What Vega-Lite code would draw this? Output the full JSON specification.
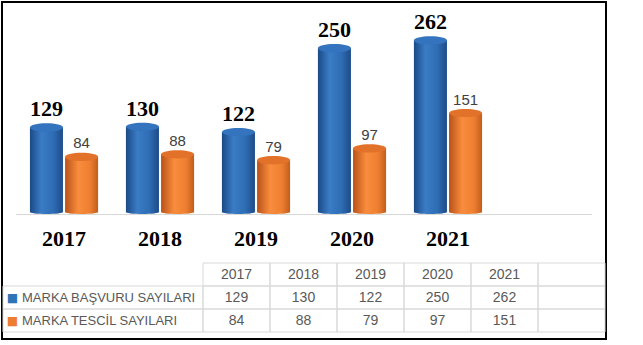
{
  "$schema": "https://vega.github.io/schema/vega-lite/v6.json",
  "width": 604,
  "height": 337,
  "autosize": {"type": "none"},
  "padding": {"left": 2, "top": 2, "right": 37, "bottom": 6},
  "background": "white",
  "config": {"view": {"stroke": "black", "strokeWidth": 2}},
  "datasets": {
    "bars": [
      {"year": "2017", "series": "MARKA BAŞVURU SAYILARI", "value": 129},
      {"year": "2018", "series": "MARKA BAŞVURU SAYILARI", "value": 130},
      {"year": "2019", "series": "MARKA BAŞVURU SAYILARI", "value": 122},
      {"year": "2020", "series": "MARKA BAŞVURU SAYILARI", "value": 250},
      {"year": "2021", "series": "MARKA BAŞVURU SAYILARI", "value": 262},
      {"year": "2017", "series": "MARKA TESCİL SAYILARI", "value": 84},
      {"year": "2018", "series": "MARKA TESCİL SAYILARI", "value": 88},
      {"year": "2019", "series": "MARKA TESCİL SAYILARI", "value": 79},
      {"year": "2020", "series": "MARKA TESCİL SAYILARI", "value": 97},
      {"year": "2021", "series": "MARKA TESCİL SAYILARI", "value": 151}
    ]
  },
  "data": {"name": "bars"},
  "resolve": {"scale": {"x": "independent", "y": "independent"}},
  "layer": [
    {
      "transform": [
        {"filter": {"field": "year", "equal": "2017"}},
        {"filter": {"field": "series", "equal": "MARKA BAŞVURU SAYILARI"}}
      ],
      "mark": {"type": "rect", "fill": "#d9d9d9"},
      "encoding": {
        "x": {"datum": "base", "type": "nominal", "scale": {"domain": ["base"], "paddingInner": 0, "paddingOuter": 0.0243, "align": 0.5}, "axis": null},
        "y": {"datum": -3, "type": "quantitative", "scale": {"domain": [-193.9, 320.6], "nice": false, "zero": false}, "axis": null},
        "y2": {"datum": -4.6}
      }
    },
    {
      "layer": [
        {
          "transform": [{"filter": {"field": "series", "equal": "MARKA BAŞVURU SAYILARI"}}],
          "mark": {"type": "point", "shape": "M -1 0 A 1 0.12 0 1 1 1 0 A 1 0.12 0 1 1 -1 0 Z", "size": 1096, "filled": true, "opacity": 1, "strokeWidth": 0,
            "fill": {"gradient": "linear", "x1": 0, "y1": 0, "x2": 1, "y2": 0, "stops": [{"offset": 0, "color": "#1b4a86"}, {"offset": 0.35, "color": "#3a7cc6"}, {"offset": 0.7, "color": "#2f6db5"}, {"offset": 1, "color": "#1d4c88"}]}},
          "encoding": {
            "x": {"field": "year", "type": "nominal", "scale": {"domain": ["2017", "2018", "2019", "2020", "2021", "blank"], "paddingInner": 0.29, "paddingOuter": 0.291, "align": 0.5}, "axis": null},
            "xOffset": {"field": "series", "type": "nominal", "scale": {"domain": ["MARKA BAŞVURU SAYILARI", "MARKA TESCİL SAYILARI"], "paddingInner": 0.06}},
            "y": {"datum": 0, "type": "quantitative", "scale": {"domain": [-193.9, 320.6], "nice": false, "zero": false}, "axis": null}
          }
        },
        {
          "transform": [{"filter": {"field": "series", "equal": "MARKA TESCİL SAYILARI"}}],
          "mark": {"type": "point", "shape": "M -1 0 A 1 0.12 0 1 1 1 0 A 1 0.12 0 1 1 -1 0 Z", "size": 1096, "filled": true, "opacity": 1, "strokeWidth": 0,
            "fill": {"gradient": "linear", "x1": 0, "y1": 0, "x2": 1, "y2": 0, "stops": [{"offset": 0, "color": "#b9521a"}, {"offset": 0.4, "color": "#f98d3d"}, {"offset": 0.75, "color": "#ee7f30"}, {"offset": 1, "color": "#c35d1d"}]}},
          "encoding": {
            "x": {"field": "year", "type": "nominal", "axis": null},
            "xOffset": {"field": "series", "type": "nominal"},
            "y": {"datum": 0, "type": "quantitative", "axis": null}
          }
        },
        {
          "transform": [{"filter": {"field": "series", "equal": "MARKA BAŞVURU SAYILARI"}}],
          "mark": {"type": "bar", "opacity": 1,
            "fill": {"gradient": "linear", "x1": 0, "y1": 0, "x2": 1, "y2": 0, "stops": [{"offset": 0, "color": "#1b4a86"}, {"offset": 0.35, "color": "#3a7cc6"}, {"offset": 0.7, "color": "#2f6db5"}, {"offset": 1, "color": "#1d4c88"}]}},
          "encoding": {
            "x": {"field": "year", "type": "nominal", "axis": null},
            "xOffset": {"field": "series", "type": "nominal"},
            "y": {"field": "value", "type": "quantitative", "axis": null},
            "y2": {"datum": 0}
          }
        },
        {
          "transform": [{"filter": {"field": "series", "equal": "MARKA TESCİL SAYILARI"}}],
          "mark": {"type": "bar", "opacity": 1,
            "fill": {"gradient": "linear", "x1": 0, "y1": 0, "x2": 1, "y2": 0, "stops": [{"offset": 0, "color": "#b9521a"}, {"offset": 0.4, "color": "#f98d3d"}, {"offset": 0.75, "color": "#ee7f30"}, {"offset": 1, "color": "#c35d1d"}]}},
          "encoding": {
            "x": {"field": "year", "type": "nominal", "axis": null},
            "xOffset": {"field": "series", "type": "nominal"},
            "y": {"field": "value", "type": "quantitative", "axis": null},
            "y2": {"datum": 0}
          }
        },
        {
          "transform": [{"filter": {"field": "series", "equal": "MARKA BAŞVURU SAYILARI"}}],
          "mark": {"type": "point", "shape": "M -1 0 A 1 0.25 0 1 1 1 0 A 1 0.25 0 1 1 -1 0 Z", "size": 1096, "filled": true, "opacity": 1, "strokeWidth": 0, "fill": "#3473bd"},
          "encoding": {
            "x": {"field": "year", "type": "nominal", "axis": null},
            "xOffset": {"field": "series", "type": "nominal"},
            "y": {"field": "value", "type": "quantitative", "axis": null}
          }
        },
        {
          "transform": [{"filter": {"field": "series", "equal": "MARKA TESCİL SAYILARI"}}],
          "mark": {"type": "point", "shape": "M -1 0 A 1 0.25 0 1 1 1 0 A 1 0.25 0 1 1 -1 0 Z", "size": 1096, "filled": true, "opacity": 1, "strokeWidth": 0, "fill": "#e2722a"},
          "encoding": {
            "x": {"field": "year", "type": "nominal", "axis": null},
            "xOffset": {"field": "series", "type": "nominal"},
            "y": {"field": "value", "type": "quantitative", "axis": null}
          }
        },
        {
          "transform": [{"filter": {"field": "series", "equal": "MARKA BAŞVURU SAYILARI"}}],
          "mark": {"type": "text", "font": "Liberation Serif", "fontWeight": "bold", "fontSize": 22, "color": "black", "align": "center", "baseline": "alphabetic", "dy": -11},
          "encoding": {
            "x": {"field": "year", "type": "nominal", "axis": null},
            "xOffset": {"field": "series", "type": "nominal"},
            "y": {"field": "value", "type": "quantitative", "axis": null},
            "text": {"field": "value", "type": "quantitative"}
          }
        },
        {
          "transform": [{"filter": {"field": "series", "equal": "MARKA TESCİL SAYILARI"}}],
          "mark": {"type": "text", "font": "Liberation Sans", "fontSize": 15, "color": "#404040", "align": "center", "baseline": "alphabetic", "dy": -8.5},
          "encoding": {
            "x": {"field": "year", "type": "nominal", "axis": null},
            "xOffset": {"field": "series", "type": "nominal"},
            "y": {"field": "value", "type": "quantitative", "axis": null},
            "text": {"field": "value", "type": "quantitative"}
          }
        },
        {
          "transform": [{"filter": {"field": "series", "equal": "MARKA BAŞVURU SAYILARI"}}],
          "mark": {"type": "text", "font": "Liberation Serif", "fontWeight": "bold", "fontSize": 22, "color": "black", "align": "center", "baseline": "alphabetic", "dy": 34.5},
          "encoding": {
            "x": {"field": "year", "type": "nominal", "axis": null},
            "y": {"datum": 0, "type": "quantitative", "axis": null},
            "text": {"field": "year", "type": "nominal"}
          }
        }
      ]
    },
    {
      "layer": [
        {
          "mark": {"type": "rect", "filled": false, "stroke": "#d9d9d9", "strokeWidth": 1},
          "encoding": {
            "x": {"field": "year", "type": "nominal", "scale": {"domain": ["2017", "2018", "2019", "2020", "2021", "blank"], "paddingInner": 0, "paddingOuter": 0, "range": [201, 603]}, "axis": null},
            "y": {"field": "series", "type": "nominal", "scale": {"domain": ["header", "MARKA BAŞVURU SAYILARI", "MARKA TESCİL SAYILARI"], "paddingInner": 0, "paddingOuter": 0, "range": [261, 330]}, "axis": null}
          }
        },
        {
          "transform": [{"filter": {"field": "series", "equal": "MARKA BAŞVURU SAYILARI"}}],
          "mark": {"type": "rect", "filled": false, "stroke": "#d9d9d9", "strokeWidth": 1},
          "encoding": {
            "x": {"field": "year", "type": "nominal", "axis": null},
            "y": {"datum": "header", "type": "nominal", "axis": null}
          }
        },
        {
          "transform": [{"filter": {"field": "year", "equal": "2017"}}],
          "mark": {"type": "rect", "filled": false, "stroke": "#d9d9d9", "strokeWidth": 1},
          "encoding": {
            "x": {"datum": "blank", "type": "nominal", "axis": null},
            "y": {"field": "series", "type": "nominal", "axis": null}
          }
        },
        {
          "transform": [
            {"filter": {"field": "year", "equal": "2017"}},
            {"filter": {"field": "series", "equal": "MARKA BAŞVURU SAYILARI"}}
          ],
          "mark": {"type": "rect", "filled": false, "stroke": "#d9d9d9", "strokeWidth": 1},
          "encoding": {
            "x": {"datum": "blank", "type": "nominal", "axis": null},
            "y": {"datum": "header", "type": "nominal", "axis": null}
          }
        },
        {
          "transform": [{"filter": {"field": "series", "equal": "MARKA BAŞVURU SAYILARI"}}],
          "mark": {"type": "text", "font": "Liberation Sans", "fontSize": 14, "color": "#595959", "align": "center", "baseline": "middle"},
          "encoding": {
            "x": {"field": "year", "type": "nominal", "axis": null},
            "y": {"datum": "header", "type": "nominal", "axis": null},
            "text": {"field": "year", "type": "nominal"}
          }
        },
        {
          "mark": {"type": "text", "font": "Liberation Sans", "fontSize": 14, "color": "#595959", "align": "center", "baseline": "middle"},
          "encoding": {
            "x": {"field": "year", "type": "nominal", "axis": null},
            "y": {"field": "series", "type": "nominal", "axis": null},
            "text": {"field": "value", "type": "quantitative"}
          }
        }
      ]
    },
    {
      "transform": [{"filter": {"field": "year", "equal": "2017"}}],
      "layer": [
        {
          "mark": {"type": "rect", "filled": false, "stroke": "#d9d9d9", "strokeWidth": 1},
          "encoding": {
            "x": {"datum": "label", "type": "nominal", "scale": {"domain": ["label"], "paddingInner": 0, "paddingOuter": 0, "range": [1, 201]}, "axis": null},
            "y": {"field": "series", "type": "nominal", "scale": {"domain": ["header", "MARKA BAŞVURU SAYILARI", "MARKA TESCİL SAYILARI"], "paddingInner": 0, "paddingOuter": 0, "range": [261, 330]}, "axis": null}
          }
        },
        {
          "mark": {"type": "text", "text": "■", "font": "DejaVu Sans", "fontSize": 12, "align": "center", "baseline": "middle", "dx": -90.5},
          "encoding": {
            "x": {"datum": "label", "type": "nominal", "axis": null},
            "y": {"field": "series", "type": "nominal", "axis": null},
            "color": {"field": "series", "type": "nominal", "scale": {"domain": ["MARKA BAŞVURU SAYILARI", "MARKA TESCİL SAYILARI"], "range": ["#2e75b6", "#ed7d31"]}, "legend": null}
          }
        },
        {
          "mark": {"type": "text", "font": "Liberation Sans", "fontSize": 13, "color": "#595959", "align": "left", "baseline": "middle", "dx": -81},
          "encoding": {
            "x": {"datum": "label", "type": "nominal", "axis": null},
            "y": {"field": "series", "type": "nominal", "axis": null},
            "text": {"field": "series", "type": "nominal"}
          }
        }
      ]
    }
  ]
}
